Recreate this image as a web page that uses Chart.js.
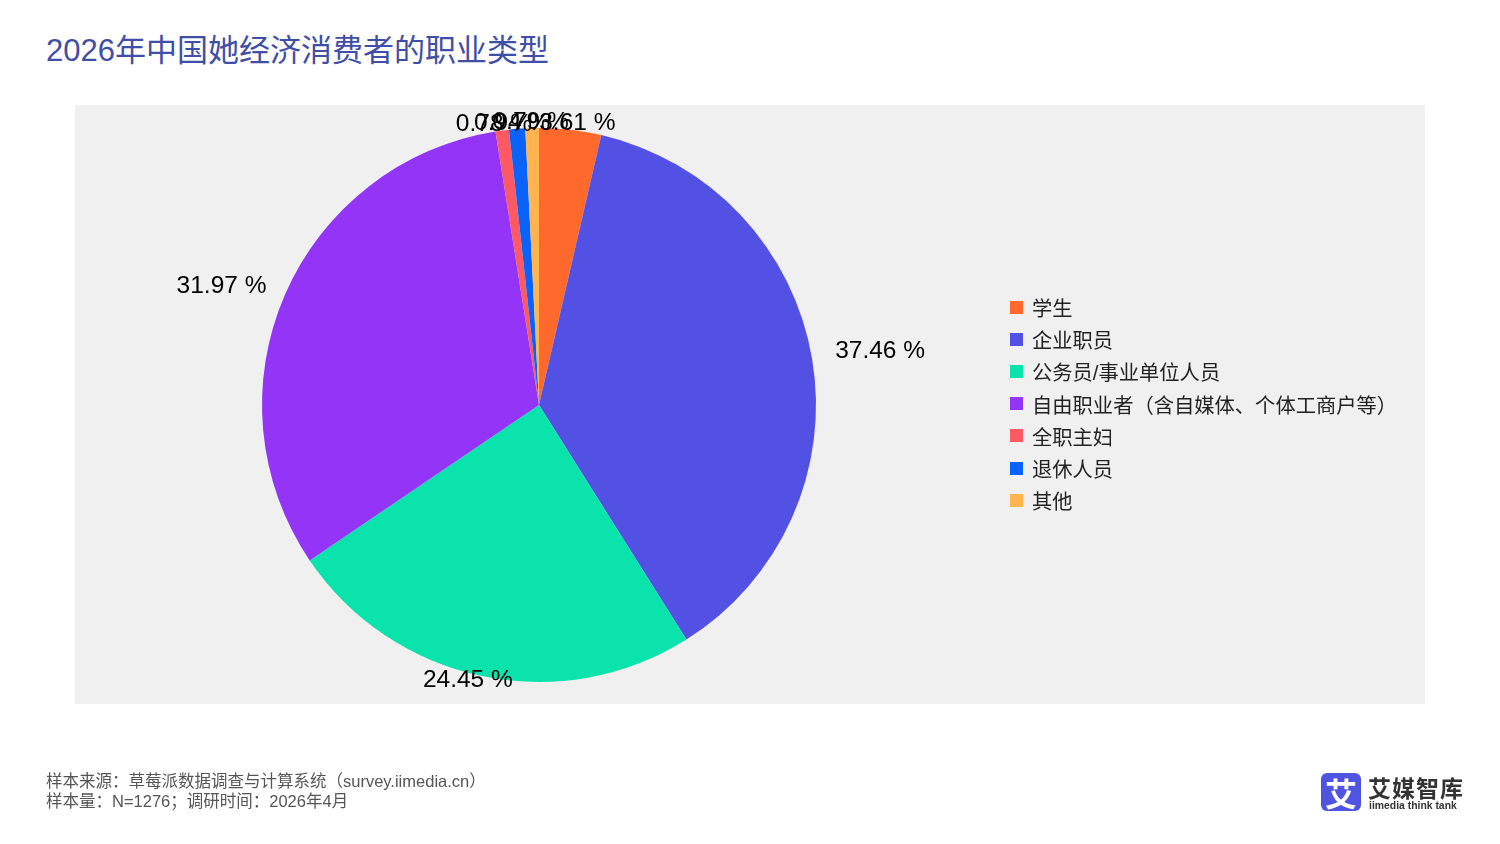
<!DOCTYPE html>
<html>
<head>
<meta charset="utf-8">
<script src="https://cdn.jsdelivr.net/npm/chart.js@4.4.0/dist/chart.umd.min.js"></script>
<style>
  body { margin: 0; width: 1500px; height: 844px; background: #fff; position: relative; font-family: "Liberation Sans", "Noto Sans CJK SC", sans-serif; overflow: hidden; }
  #title { position: absolute; left: 46px; top: 25px; font-size: 31px; color: #3f4ea6; }
  #plot { position: absolute; left: 75px; top: 105px; width: 1350px; height: 599px; background: #f0f0f0; }
  #pieChart { position: absolute; left: 0; top: 0; }
  #legend { position: absolute; left: 1010px; top: 291px; font-size: 20.3px; color: #222; }
  .item { height: 32.2px; display: flex; align-items: center; }
  .sw { width: 13px; height: 13px; margin-right: 9px; }
  #foot { position: absolute; left: 46px; top: 771px; font-size: 16.5px; color: #555; line-height: 20px; }
  #logo { position: absolute; left: 1321px; top: 773px; }
  #logo .box { position: absolute; left: 0; top: 0; width: 40px; height: 38px; background: #4f55e0; border-radius: 6px; color: #fff; font-size: 32px; font-weight: bold; text-align: center; line-height: 38px; font-family: "Noto Sans CJK SC"; }
  #logo .name { position: absolute; left: 47px; top: -3px; font-size: 23px; font-weight: bold; color: #333; font-family: "Noto Sans CJK SC"; white-space: nowrap; letter-spacing: 1px; }
  #logo .sub { position: absolute; left: 48px; top: 27px; font-size: 10.4px; font-weight: bold; color: #333; white-space: nowrap; }
</style>
</head>
<body>
<div id="title">2026年中国她经济消费者的职业类型</div>
<div id="plot"></div>
<canvas id="pieChart" width="1500" height="844"></canvas>
<div id="legend"></div>
<div id="foot">样本来源：草莓派数据调查与计算系统（survey.iimedia.cn）<br>样本量：N=1276；调研时间：2026年4月</div>
<div id="logo"><div class="box">艾</div><div class="name">艾媒智库</div><div class="sub">iimedia think tank</div></div>
<script>
var categories = ['学生', '企业职员', '公务员/事业单位人员', '自由职业者（含自媒体、个体工商户等）', '全职主妇', '退休人员', '其他'];
var shares = [3.61, 37.46, 24.45, 31.97, 0.78, 0.94, 0.79];
var sliceColors = ['#ff6a2c', '#5351e4', '#0be3ad', '#9334f6', '#fb5a64', '#0a63f8', '#ffb44f'];

// legend on the right
var legend = document.getElementById('legend');
categories.forEach(function (name, i) {
    var row = document.createElement('div');
    row.className = 'item';
    row.innerHTML = '<div class="sw" style="background:' + sliceColors[i] + '"></div><span>' + name + '</span>';
    legend.appendChild(row);
});

// percent labels outside the slices
var outsideLabels = {
    id: 'outsideLabels',
    afterDatasetsDraw: function (chart) {
        var ctx = chart.ctx;
        var meta = chart.getDatasetMeta(0);
        ctx.save();
        ctx.font = '24.5px "Liberation Sans", Arial, sans-serif';
        ctx.fillStyle = '#000';
        ctx.textBaseline = 'middle';
        ctx.textAlign = 'center';
        meta.data.forEach(function (arc, i) {
            var mid = (arc.startAngle + arc.endAngle) / 2;
            var dx = Math.cos(mid), dy = Math.sin(mid);
            var text = shares[i].toFixed(2) + ' %';
            var w = ctx.measureText(text).width;
            var px = arc.x + dx * arc.outerRadius;
            var py = arc.y + dy * arc.outerRadius;
            var x = px + dx * (w / 2 + 24);
            var y = py + dy * 5.5 - Math.abs(dx) * 7;
            ctx.fillText(text, x, y);
        });
        ctx.restore();
    }
};

var ctx1 = document.getElementById('pieChart').getContext('2d');
var pieChart = new Chart(ctx1, {
    type: 'pie',
    data: {
        labels: categories,
        datasets: [{
            data: shares,
            backgroundColor: sliceColors,
            borderWidth: 0
        }]
    },
    options: {
        responsive: false,
        animation: false,
        layout: { padding: { left: 262, right: 684, top: 128, bottom: 162 } },
        plugins: {
            legend: { display: false },
            tooltip: { enabled: false }
        }
    },
    plugins: [outsideLabels]
});
</script>
</body>
</html>
